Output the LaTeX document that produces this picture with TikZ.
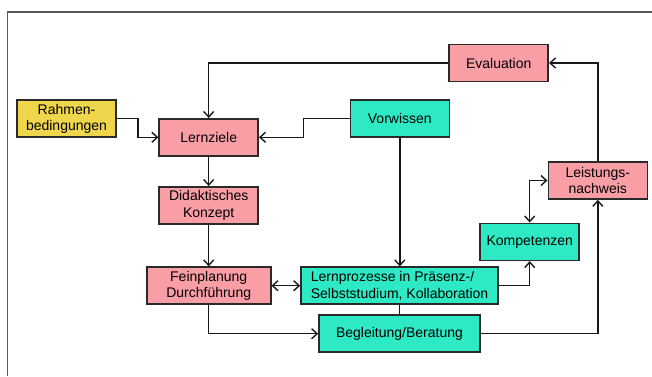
\documentclass[tikz,border=0pt]{standalone}
\usepackage{fontspec}
\setmainfont{Liberation Sans}
\usetikzlibrary{arrows.meta}
\definecolor{rosa}{HTML}{FA9EA6}
\definecolor{tuerkis}{HTML}{2DEAC4}
\definecolor{gelb}{HTML}{EFD64C}
\definecolor{rand}{HTML}{2A2A2A}
\tikzset{
  kasten/.style={draw=rand, line width=1.6pt, inner sep=0pt, minimum height=37pt,
    minimum width=99pt, align=center, font=\fontsize{14}{16.5}\selectfont},
  pfeil/.style={line width=1.4pt, draw=black!90}
}

\begin{document}
\begin{tikzpicture}[x=1pt, y=-1pt, >={Straight Barb[length=5.5pt,width=10pt]}]
\useasboundingbox (0,0) rectangle (652,376);
\draw [line width=1.6pt, black!65] (7.5,376) -- (7.5,12) -- (652,12);
% Kaesten
\node [kasten, fill=gelb] (rahmen) at (66.5,118.7) {Rahmen-\\bedingungen};
\node [kasten, fill=rosa] (lernziele) at (208.7,137.3) {Lernziele};
\node [kasten, fill=rosa] (eval) at (498.7,63) {Evaluation};
\node [kasten, fill=tuerkis] (vorwissen) at (399.8,118.7) {Vorwissen};
\node [kasten, fill=rosa] (didaktik) at (208.7,205.3) {Didaktisches\\Konzept};
\node [kasten, fill=rosa, minimum width=124pt] (fein) at (208.7,285.7) {Feinplanung\\Durchführung};
\node [kasten, fill=tuerkis, minimum width=197pt, align=left] (lernproz) at (399.5,285.7) {Lernprozesse in Präsenz-/\\Selbststudium, Kollaboration};
\node [kasten, fill=tuerkis, minimum width=161pt] (begleitung) at (399.5,333.7) {Begleitung/Beratung};
\node [kasten, fill=tuerkis] (kompetenz) at (529.7,241.8) {Kompetenzen};
\node [kasten, fill=rosa] (leistung) at (597.8,180.5) {Leistungs-\\nachweis};
% Verbindungen
\draw [pfeil, ->] (eval.west) -| (lernziele.north);
\draw [pfeil, ->] (rahmen.east) -- ++(21,0) |- (lernziele.west);
\draw [pfeil, ->] (vorwissen.west) -- ++(-46,0) |- (lernziele.east);
\draw [pfeil, ->] (lernziele) -- (didaktik);
\draw [pfeil, ->] (didaktik) -- (fein);
\draw [pfeil, ->] (vorwissen.south) -- (vorwissen.south |- lernproz.north);
\draw [pfeil, <->] (fein) -- (lernproz);
\draw [pfeil] (lernproz) -- (begleitung);
\draw [pfeil, ->] (fein.south) |- (begleitung.west);
\draw [pfeil, ->] (lernproz.east) -| (kompetenz.south);
\draw [pfeil, <->] (kompetenz.north) |- (leistung.west);
\draw [pfeil, ->] (begleitung.east) -| (leistung.south);
\draw [pfeil, ->] (leistung.north) |- (eval.east);
\end{tikzpicture}
\end{document}
